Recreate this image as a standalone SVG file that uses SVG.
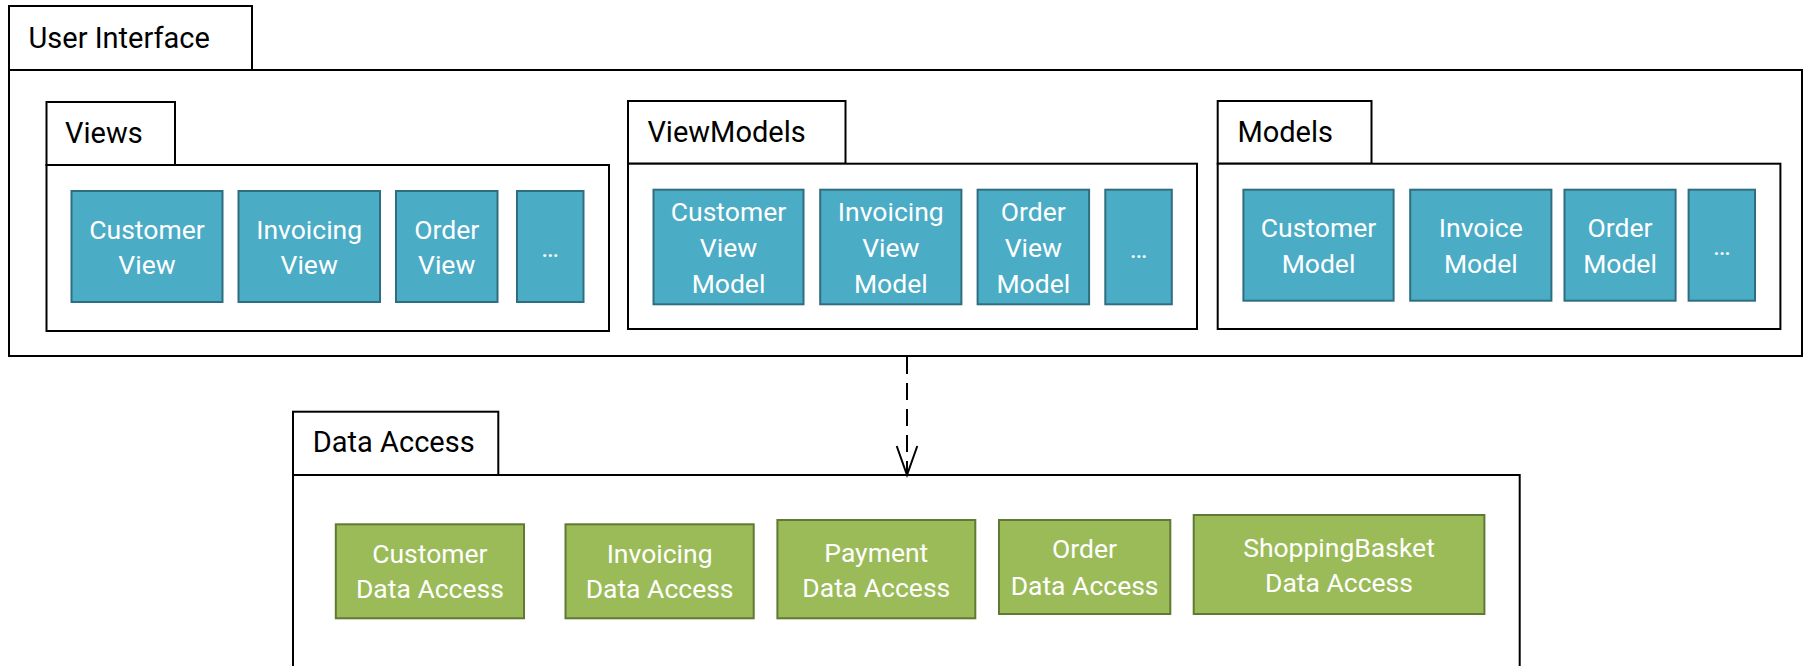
<svg xmlns="http://www.w3.org/2000/svg" width="1810" height="666" viewBox="0 0 1810 666">
  <style>
    .pkg { fill: #ffffff; stroke: #000000; stroke-width: 2; }
    .tab-label { font-family: Roboto, "Liberation Sans", sans-serif; font-size: 29px; fill: #000000; }
    .ui { fill: #4BACC6; stroke: #2F6E80; stroke-width: 2; }
    .da { fill: #9BBB59; stroke: #5F7A32; stroke-width: 2; }
    .lbl { font-family: Roboto, "Liberation Sans", sans-serif; font-size: 26.5px; fill: #ffffff; text-anchor: middle; }
    .dep { fill: none; stroke: #000000; stroke-width: 2; }
  </style>

  <!-- User Interface package -->
  <g id="pkg-user-interface">
    <rect class="pkg" x="9" y="6" width="243" height="64"/>
    <rect class="pkg" x="9" y="70" width="1793" height="286"/>
    <text class="tab-label" x="28.5" y="47.5">User Interface</text>
  </g>

  <!-- Views package -->
  <g id="pkg-views">
    <rect class="pkg" x="46.5" y="102" width="128.5" height="63"/>
    <rect class="pkg" x="46.5" y="165" width="562.5" height="166"/>
    <text class="tab-label" x="65" y="142.5">Views</text>
  </g>
  <g id="customer-view">
    <rect class="ui" x="71.5" y="191" width="151" height="111"/>
    <text class="lbl" x="147" y="238.5">Customer</text>
    <text class="lbl" x="147" y="273.5">View</text>
  </g>
  <g id="invoicing-view">
    <rect class="ui" x="238.5" y="191" width="141.5" height="111"/>
    <text class="lbl" x="309.2" y="238.5">Invoicing</text>
    <text class="lbl" x="309.2" y="273.5">View</text>
  </g>
  <g id="order-view">
    <rect class="ui" x="396" y="191" width="101.5" height="111"/>
    <text class="lbl" x="446.7" y="238.5">Order</text>
    <text class="lbl" x="446.7" y="273.5">View</text>
  </g>
  <g id="more-views">
    <rect class="ui" x="517" y="191" width="66.5" height="111"/>
    <text class="lbl" x="550.2" y="256.5">…</text>
  </g>

  <!-- ViewModels package -->
  <g id="pkg-viewmodels">
    <rect class="pkg" x="628" y="101" width="217.5" height="62.7"/>
    <rect class="pkg" x="628" y="163.7" width="569" height="165.3"/>
    <text class="tab-label" x="647.4" y="141.5">ViewModels</text>
  </g>
  <g id="customer-view-model">
    <rect class="ui" x="653.5" y="189.7" width="150" height="114.6"/>
    <text class="lbl" x="728.5" y="220.7">Customer</text>
    <text class="lbl" x="728.5" y="256.7">View</text>
    <text class="lbl" x="728.5" y="292.7">Model</text>
  </g>
  <g id="invoicing-view-model">
    <rect class="ui" x="820.2" y="189.7" width="141.2" height="114.6"/>
    <text class="lbl" x="890.8" y="220.7">Invoicing</text>
    <text class="lbl" x="890.8" y="256.7">View</text>
    <text class="lbl" x="890.8" y="292.7">Model</text>
  </g>
  <g id="order-view-model">
    <rect class="ui" x="977.6" y="189.7" width="111.5" height="114.6"/>
    <text class="lbl" x="1033.3" y="220.7">Order</text>
    <text class="lbl" x="1033.3" y="256.7">View</text>
    <text class="lbl" x="1033.3" y="292.7">Model</text>
  </g>
  <g id="more-view-models">
    <rect class="ui" x="1105.3" y="189.7" width="66.5" height="114.6"/>
    <text class="lbl" x="1138.5" y="258">…</text>
  </g>

  <!-- Models package -->
  <g id="pkg-models">
    <rect class="pkg" x="1217.7" y="101" width="153.8" height="62.7"/>
    <rect class="pkg" x="1217.7" y="163.7" width="562.7" height="165.3"/>
    <text class="tab-label" x="1237.4" y="141.5">Models</text>
  </g>
  <g id="customer-model">
    <rect class="ui" x="1243.4" y="189.7" width="150.2" height="111"/>
    <text class="lbl" x="1318.5" y="236.7">Customer</text>
    <text class="lbl" x="1318.5" y="272.7">Model</text>
  </g>
  <g id="invoice-model">
    <rect class="ui" x="1410.2" y="189.7" width="141.2" height="111"/>
    <text class="lbl" x="1480.8" y="236.7">Invoice</text>
    <text class="lbl" x="1480.8" y="272.7">Model</text>
  </g>
  <g id="order-model">
    <rect class="ui" x="1564.5" y="189.7" width="111.1" height="111"/>
    <text class="lbl" x="1620" y="236.7">Order</text>
    <text class="lbl" x="1620" y="272.7">Model</text>
  </g>
  <g id="more-models">
    <rect class="ui" x="1688.6" y="189.7" width="66.4" height="111"/>
    <text class="lbl" x="1721.8" y="254.5">…</text>
  </g>

  <!-- Data Access package -->
  <g id="pkg-data-access">
    <rect class="pkg" x="293" y="411.7" width="205.3" height="63.3"/>
    <rect class="pkg" x="293" y="475" width="1226.7" height="210"/>
    <text class="tab-label" x="312.8" y="452.3">Data Access</text>
  </g>
  <g id="customer-data-access">
    <rect class="da" x="335.8" y="524.3" width="188.2" height="94"/>
    <text class="lbl" x="429.9" y="563.3">Customer</text>
    <text class="lbl" x="429.9" y="598.3">Data Access</text>
  </g>
  <g id="invoicing-data-access">
    <rect class="da" x="565.5" y="524.3" width="188.2" height="94"/>
    <text class="lbl" x="659.6" y="563.3">Invoicing</text>
    <text class="lbl" x="659.6" y="598.3">Data Access</text>
  </g>
  <g id="payment-data-access">
    <rect class="da" x="777.4" y="520" width="197.9" height="98.3"/>
    <text class="lbl" x="876.3" y="561.7">Payment</text>
    <text class="lbl" x="876.3" y="596.7">Data Access</text>
  </g>
  <g id="order-data-access">
    <rect class="da" x="999" y="520" width="171.3" height="94"/>
    <text class="lbl" x="1084.6" y="558.3">Order</text>
    <text class="lbl" x="1084.6" y="595">Data Access</text>
  </g>
  <g id="shoppingbasket-data-access">
    <rect class="da" x="1193.7" y="515" width="290.7" height="99"/>
    <text class="lbl" x="1339" y="556.7">ShoppingBasket</text>
    <text class="lbl" x="1339" y="591.7">Data Access</text>
  </g>

  <!-- Dependency: User Interface uses Data Access -->
  <g id="connectors">
    <line class="dep" x1="907" y1="357" x2="907" y2="474" stroke-dasharray="17 9"/>
    <polyline class="dep" points="896.7,446 907,475 917.3,446"/>
  </g>
</svg>
